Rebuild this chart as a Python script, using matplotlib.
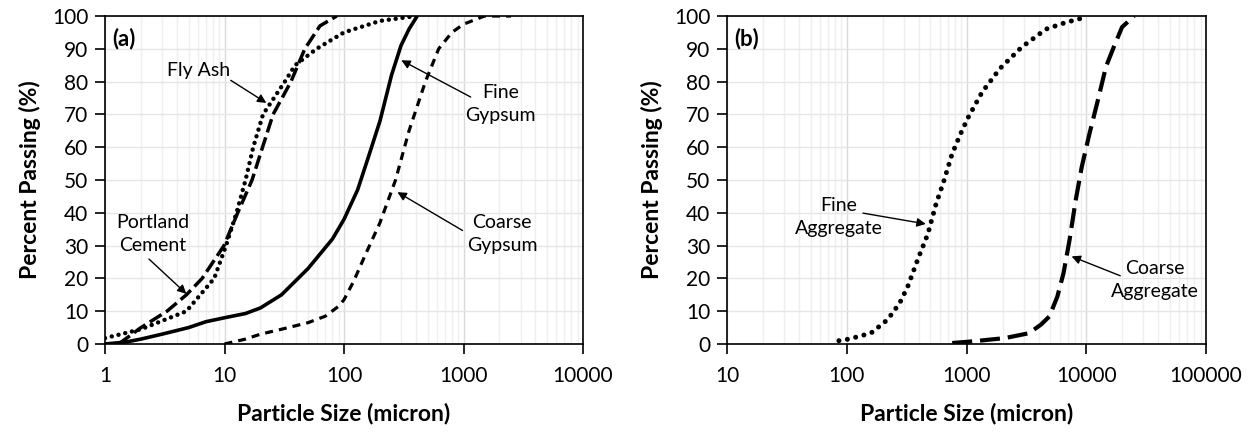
import numpy as np
import matplotlib
matplotlib.use("Agg")
import matplotlib.pyplot as plt
from matplotlib.ticker import FixedLocator, LogLocator, NullFormatter

plt.rcParams['font.family'] = ['Lato', 'DejaVu Sans']

# (a) cementitious materials - particle size (micron) vs percent passing
fine_gyp_x = [1, 1.5, 2, 3, 5, 7, 10, 15, 20, 30, 50, 80, 100, 130, 160, 200, 250, 300, 350, 410]
fine_gyp_y = [0, 0.6, 1.5, 3, 5, 6.8, 8, 9.3, 11, 15, 23, 32, 38, 47, 57, 68, 82, 91, 96, 100]

coarse_gyp_x = [10, 15, 20, 30, 50, 70, 90, 100, 120, 150, 200, 270, 350, 480, 620, 800, 1000, 1500, 2500]
coarse_gyp_y = [0, 1.5, 3, 4.5, 6.5, 8.5, 11.5, 13.5, 19, 27, 37, 50, 65, 80, 90, 95, 97.5, 100, 100]

cement_x = [1.3, 2, 3.3, 4.8, 6.5, 9.9, 12.9, 17, 25.5, 36, 47, 63, 87]
cement_y = [0, 5, 10, 15, 20, 30, 40, 50, 70, 80, 90, 97, 100]

flyash_x = [1, 2, 4.8, 8.2, 10.3, 12.6, 15, 17.4, 21, 32, 39, 59, 100, 200, 400]
flyash_y = [1.8, 4.5, 10, 20, 30, 40, 50, 60, 70, 80, 85, 90, 95, 98.5, 100]

# (b) aggregates
fine_agg_x = [86, 104, 159, 219, 276, 323, 391, 475, 556, 647, 756, 887, 1030, 1350,
              1905, 2890, 4610, 6710, 9550, 10000]
fine_agg_y = [1, 1.5, 3.3, 7.4, 12.4, 17.5, 25.7, 33.5, 42.6, 49.7, 57.8, 63.9, 69, 76.8,
              84, 90.5, 96, 98, 99.5, 100]

coarse_agg_x = [760, 1120, 2090, 3330, 4180, 4920, 5730, 6460, 7250, 8170, 9170, 10650,
                12500, 14600, 17000, 19900, 25100]
coarse_agg_y = [0.3, 0.8, 1.8, 3.3, 5.9, 8.4, 14.4, 21.6, 31.7, 43.9, 54, 64.2,
                74.3, 84.5, 90.6, 96.6, 100]

fig = plt.figure(figsize=(12.55, 4.33), dpi=100)
ax1 = fig.add_axes([105 / 1255, 89 / 433, 478 / 1255, 328 / 433])
ax2 = fig.add_axes([727 / 1255, 89 / 433, 479 / 1255, 328 / 433])


def style_axis(ax, xmin, xmax, label):
    ax.set_xscale('log')
    ax.set_xlim(xmin, xmax)
    ax.set_ylim(0, 100)
    ax.yaxis.set_major_locator(FixedLocator(np.arange(0, 101, 10)))
    ax.xaxis.set_minor_locator(LogLocator(base=10, subs=np.arange(2, 10), numticks=100))
    ax.xaxis.set_minor_formatter(NullFormatter())
    ticks = [xmin * 10 ** i for i in range(int(round(np.log10(xmax / xmin))) + 1)]
    ax.set_xticks(ticks)
    ax.set_xticklabels([str(int(t)) for t in ticks])
    ax.grid(True, which='major', axis='x', color='#d9d9d9', lw=1.0)
    ax.grid(True, which='minor', axis='x', color='#efefef', lw=1.0)
    ax.grid(True, which='major', axis='y', color='#e6e6e6', lw=1.0)
    ax.set_axisbelow(True)
    ax.tick_params(axis='both', which='major', direction='out', length=7, width=1.2,
                   labelsize=15, colors='black')
    ax.tick_params(axis='x', which='minor', length=0)
    ax.tick_params(axis='x', pad=9)
    ax.tick_params(axis='y', pad=5)
    for s in ax.spines.values():
        s.set_color('black')
        s.set_linewidth(1.2)
    ax.set_xlabel('Particle Size (micron)', fontsize=16.5, fontweight='bold', labelpad=12)
    ax.set_ylabel('Percent Passing (%)', fontsize=16.5, fontweight='bold', labelpad=8)
    ax.text(0.015, 0.965, label, transform=ax.transAxes, fontsize=16, fontweight='bold',
            va='top', ha='left')


style_axis(ax1, 1, 10000, '(a)')
style_axis(ax2, 10, 100000, '(b)')

ax1.plot(fine_gyp_x, fine_gyp_y, color='black', lw=2.6, solid_capstyle='butt')
ax1.plot(coarse_gyp_x, coarse_gyp_y, color='black', lw=2.3, linestyle=(0, (2.5, 1.9)))
ax1.plot(cement_x, cement_y, color='black', lw=2.5, linestyle=(0, (4.0, 1.5)))
ax1.plot(flyash_x, flyash_y, color='black', lw=3.2, linestyle=(0, (0.01, 1.55)),
         dash_capstyle='round')

ax2.plot(fine_agg_x, fine_agg_y, color='black', lw=3.6, linestyle=(0, (0.01, 1.7)),
         dash_capstyle='round')
ax2.plot(coarse_agg_x, coarse_agg_y, color='black', lw=3.0, linestyle=(0, (4.8, 1.9)))

arrow = dict(arrowstyle='-|>', color='black', lw=1.0, mutation_scale=13,
             shrinkA=0, shrinkB=0)
tfs = 14

ax1.text(0.195, 0.834, 'Fly Ash', transform=ax1.transAxes, fontsize=tfs,
         ha='center', va='center')
ax1.annotate('', xy=(22.4, 73.5), xytext=(0.263, 0.804), textcoords='axes fraction',
             arrowprops=arrow)
ax1.text(0.10, 0.336, 'Portland\nCement', transform=ax1.transAxes, fontsize=tfs,
         ha='center', va='center', linespacing=1.4)
ax1.annotate('', xy=(4.8, 15.3), xytext=(0.092, 0.259), textcoords='axes fraction',
             arrowprops=arrow)
ax1.text(0.827, 0.732, 'Fine\nGypsum', transform=ax1.transAxes, fontsize=tfs,
         ha='center', va='center', linespacing=1.4)
ax1.annotate('', xy=(302, 86.5), xytext=(0.765, 0.753), textcoords='axes fraction',
             arrowprops=arrow)
ax1.text(0.831, 0.336, 'Coarse\nGypsum', transform=ax1.transAxes, fontsize=tfs,
         ha='center', va='center', linespacing=1.4)
ax1.annotate('', xy=(280, 46.3), xytext=(0.748, 0.346), textcoords='axes fraction',
             arrowprops=arrow)

ax2.text(0.233, 0.388, 'Fine\nAggregate', transform=ax2.transAxes, fontsize=tfs,
         ha='center', va='center', linespacing=1.4)
ax2.annotate('', xy=(457, 36.6), xytext=(0.284, 0.399), textcoords='axes fraction',
             arrowprops=arrow)
ax2.text(0.893, 0.196, 'Coarse\nAggregate', transform=ax2.transAxes, fontsize=tfs,
         ha='center', va='center', linespacing=1.4)
ax2.annotate('', xy=(7540, 26.7), xytext=(0.821, 0.208), textcoords='axes fraction',
             arrowprops=arrow)

fig.savefig('out.png', dpi=100)
